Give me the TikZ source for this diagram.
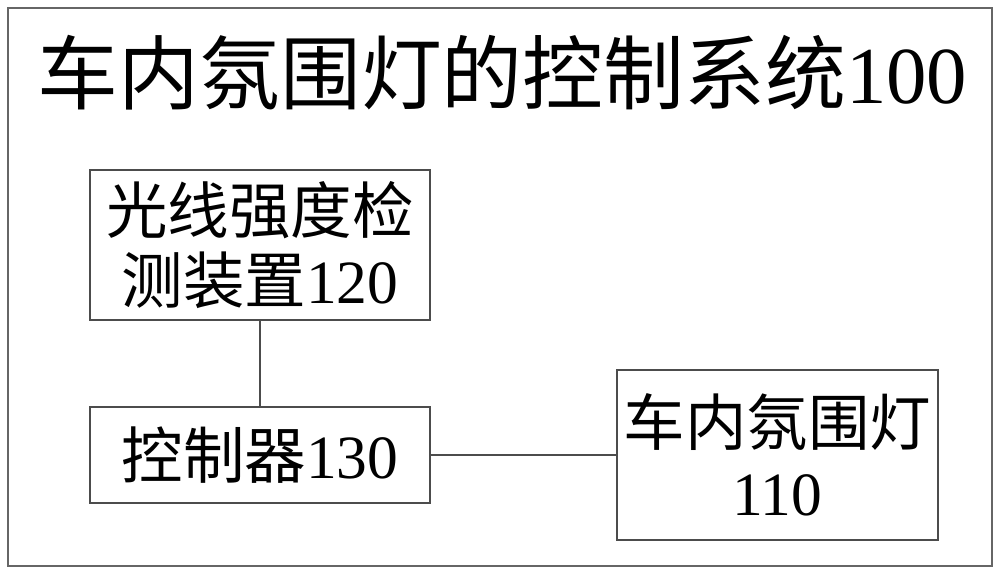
\documentclass[tikz,border=0pt]{standalone}
\usepackage{fontspec}
\setmainfont{Liberation Serif}
\newfontfamily\cjk{Noto Sans CJK SC}
\usetikzlibrary{positioning}

\begin{document}
\begin{tikzpicture}[box/.style={rectangle, draw=black!70, line width=0.8pt, align=center, inner sep=0pt, font=\fontsize{35}{40}\selectfont}]
    \useasboundingbox (0,0) rectangle (20,-11.46);
    \draw [black!60, line width=0.8pt] (0.16,-0.16) rectangle (19.84,-11.32);

    %title
    \node at (10.05,-1.45) (title) {\fontsize{46}{50}\selectfont{\cjk 车内氛围灯的控制系统}100};

    \node at (5.2,-4.9) [box, minimum width=6.8cm, minimum height=3cm] (sensor) {{\cjk 光线强度检}\\{\cjk 测装置}120};
    \node at (5.2,-9.1) [box, minimum width=6.8cm, minimum height=1.92cm] (ctrl) {{\cjk 控制器}130};
    \node at (15.55,-9.1) [box, minimum width=6.42cm, minimum height=3.4cm] (lamp) {{\cjk 车内氛围灯}\\110};

    %connections
    \draw [black!70, line width=1pt] (sensor.south) -- (ctrl.north);
    \draw [black!70, line width=1pt] (ctrl.east) -- (lamp.west);
\end{tikzpicture}
\end{document}
